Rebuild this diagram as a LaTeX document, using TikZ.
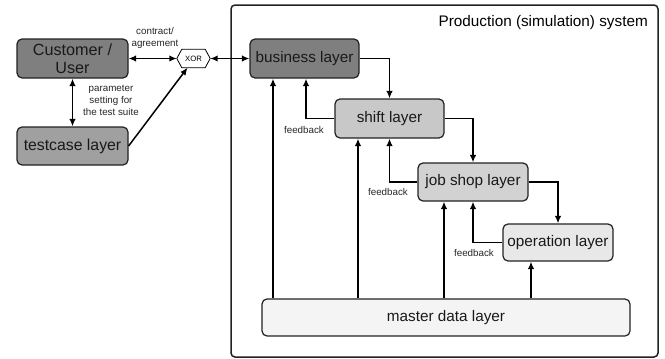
\documentclass[tikz,border=0pt]{standalone}
\usepackage{fontspec}
\setmainfont{Liberation Sans}
\usetikzlibrary{arrows.meta,calc}
\definecolor{cdark}{HTML}{7F7F7F}
\definecolor{cmid}{HTML}{A0A0A0}
\definecolor{cshift}{HTML}{C8C8C8}
\definecolor{cjob}{HTML}{D2D2D2}
\definecolor{cop}{HTML}{E8E8E8}
\definecolor{cmaster}{HTML}{F4F4F4}
\definecolor{cline}{HTML}{222222}
\tikzset{
  layer/.style={draw=cline, line width=1.2pt, rounded corners=5pt, inner sep=0pt,
    font=\fontsize{15.3}{18}\selectfont, align=center, text=black!90},
  arr/.style={draw=black, line width=1.5pt, -{Latex[length=7.5pt,width=6.5pt]}},
  darr/.style={draw=black, line width=1.5pt, {Latex[length=7.5pt,width=6.5pt]}-{Latex[length=7.5pt,width=6.5pt]}},
  small/.style={font=\fontsize{9.8}{12}\selectfont, align=center, inner sep=0pt, text=black!85},
}
\begin{document}
\begin{tikzpicture}[x=1pt,y=-1pt]
\useasboundingbox (0,0) rectangle (665,359);
% system frame
\draw[line width=1.5pt, draw=cline, rounded corners=4pt] (231,5) rectangle (658,357);
\node[anchor=east, inner sep=0pt, font=\fontsize{15.3}{18}\selectfont] (title) at (648,23) {Production (simulation) system};

% nodes
\node[layer, fill=cdark, minimum width=111pt, minimum height=39pt, font=\fontsize{16.2}{18.5}\selectfont] (cust) at (72.5,58.5) {Customer /\\User};
\node[layer, fill=cmid, minimum width=111pt, minimum height=38pt, font=\fontsize{15.8}{18}\selectfont] (test) at (72.5,146) {testcase layer};
\node[inner sep=0pt, minimum width=33pt, minimum height=18pt, font=\fontsize{7.7}{9}\selectfont] (xor) at (193.5,58.5) {XOR};
\draw[line width=0.8pt, fill=white] (xor.west) -- ([xshift=5pt]xor.north west) -- ([xshift=-5pt]xor.north east) -- (xor.east) -- ([xshift=-5pt]xor.south east) -- ([xshift=5pt]xor.south west) -- cycle;
\node[inner sep=0pt, font=\fontsize{7.7}{9}\selectfont] at (xor.center) {XOR};

\node[layer, fill=cdark, minimum width=109pt, minimum height=39pt] (bus) at (304.5,58.5) {business layer};
\node[layer, fill=cshift, minimum width=109pt, minimum height=39pt] (shift) at (389.5,118.5) {shift layer};
\node[layer, fill=cjob, minimum width=110pt, minimum height=38pt] (job) at (473,182) {job shop layer};
\node[layer, fill=cop, minimum width=110pt, minimum height=37pt] (op) at (558,242.5) {operation layer};
\node[layer, fill=cmaster, minimum width=368pt, minimum height=37pt] (master) at (446,317.5) {master data layer};

% left side connectors
\draw[darr] (cust.east) -- (xor.west);
\draw[darr] (xor.east) -- (bus.west);
\draw[darr] (cust.south) -- (test.north);
\draw[arr] (test.east) -- ([xshift=-6pt]xor.south);
\node[small] (lcontract) at (155,38) {contract/\\agreement};
\node[small] (lparam) at (111,100) {parameter\\setting for\\the test suite};

% downward flow
\draw[arr] (bus.east) -| (shift.north);
\draw[arr] (shift.east) -| (job.north);
\draw[arr] (job.east) -| (op.north);

% feedback
\draw[arr] (shift.west) -| ([xshift=1.5pt]bus.south);
\draw[arr] (job.west) -| (shift.south);
\draw[arr] (op.west) -| (job.south);
\node[small] (fb1) at (304,130) {feedback};
\node[small] (fb2) at (388,192) {feedback};
\node[small] (fb3) at (474,253) {feedback};

% master data
\coordinate (m1) at ([xshift=-31.5pt]bus.south);
\coordinate (m2) at ([xshift=-31.5pt]shift.south);
\coordinate (m3) at ([xshift=-29pt]job.south);
\coordinate (m4) at ([xshift=-27pt]op.south);
\draw[arr] (master.north -| m1) -- (m1);
\draw[arr] (master.north -| m2) -- (m2);
\draw[arr] (master.north -| m3) -- (m3);
\draw[arr] (master.north -| m4) -- (m4);
\end{tikzpicture}
\end{document}
